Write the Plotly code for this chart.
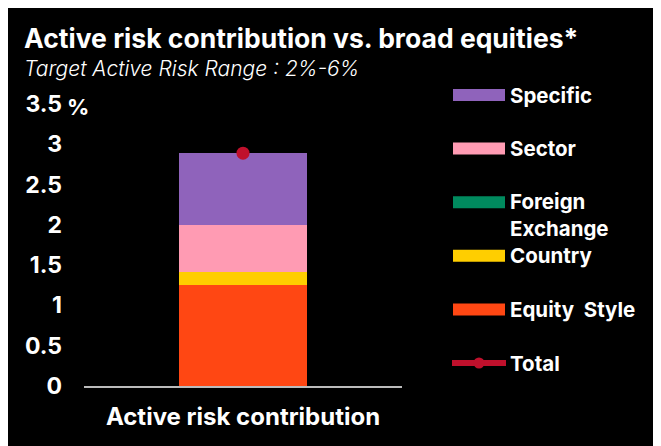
import plotly.graph_objects as go

# ---- data ----
category = ["Active risk contribution"]
series_names = ["Equity  Style", "Country", "Foreign<br>Exchange", "Sector", "Specific"]
series_values = [1.25, 0.17, 0.0, 0.58, 0.89]
series_colors = ["#FF4713", "#FFCE00", "#008A5E", "#FF9BB3", "#8F63BB"]
total_value = [2.89]
total_name = "Total"
total_color = "#C0102C"
y_tickvals = [0, 0.5, 1, 1.5, 2, 2.5, 3, 3.5]
y_ticktext = ["0", "0.5", "1", "1.5", "2", "2.5", "3", "3.5"]

# ---- layout geometry (figure pixels) ----
W, H = 653, 439
ML, MR, MT, MB = 76, 259, 96, 61
PW, PH = W - ML - MR, H - MT - MB
FONT = "Inter"

def px(fx):
    return (fx - ML) / PW

def py(fy):
    return (H - MB - fy) / PH

fig = go.Figure()
for name, val, col in zip(series_names, series_values, series_colors):
    fig.add_trace(go.Bar(x=category, y=[val], name=name, marker_color=col,
                         marker_line_width=0, showlegend=False, width=0.4))
fig.add_trace(go.Scatter(x=category, y=total_value, name=total_name, mode="markers+lines",
                         marker=dict(color=total_color, size=13), line=dict(color=total_color, width=6),
                         showlegend=False))

annotations = []
shapes = []
# subtitle
annotations.append(dict(xref="paper", yref="paper", x=px(14), y=py(60), xanchor="left", yanchor="middle",
                        text="<i>Target Active Risk Range : 2%-6%</i>", showarrow=False,
                        font=dict(family=FONT, size=21, color="white", weight=300)))
# % unit
annotations.append(dict(xref="paper", yref="paper", x=px(57), y=py(99), xanchor="left", yanchor="middle",
                        text="<b>%</b>", showarrow=False,
                        font=dict(family=FONT, size=22, color="white")))

# manual legend (top to bottom: reversed stacking order, then total)
leg_items = list(zip(series_names, series_colors))[::-1]
y0, step = 87, 53.6
sx0, sx1, tx = 445, 497, 500
for i, (name, col) in enumerate(leg_items):
    yc = y0 + i * step
    shapes.append(dict(type="rect", xref="paper", yref="paper", x0=px(sx0), x1=px(sx1),
                       y0=py(yc - 6), y1=py(yc + 6), fillcolor=col, line_width=0, layer="above"))
    if "<br>" in name:
        annotations.append(dict(xref="paper", yref="paper", x=px(tx), y=py(yc - 15), xanchor="left",
                                yanchor="top", text="<b>" + name + "</b>", showarrow=False, align="left",
                                font=dict(family=FONT, size=20.5, color="white")))
    else:
        annotations.append(dict(xref="paper", yref="paper", x=px(tx), y=py(yc), xanchor="left",
                                yanchor="middle", text="<b>" + name + "</b>", showarrow=False, align="left",
                                font=dict(family=FONT, size=20.5, color="white")))
yc = y0 + len(leg_items) * step
shapes.append(dict(type="line", xref="paper", yref="paper", x0=px(444), x1=px(498),
                   y0=py(yc), y1=py(yc), line=dict(color=total_color, width=6)))
shapes.append(dict(type="circle", xref="paper", yref="paper", x0=px(465.5), x1=px(476.5),
                   y0=py(yc - 5.5), y1=py(yc + 5.5), fillcolor=total_color, line_width=0))
annotations.append(dict(xref="paper", yref="paper", x=px(tx), y=py(yc), xanchor="left", yanchor="middle",
                        text="<b>" + total_name + "</b>", showarrow=False,
                        font=dict(family=FONT, size=20.5, color="white")))

fig.update_layout(
    width=W, height=H, barmode="stack",
    paper_bgcolor="black", plot_bgcolor="black",
    margin=dict(l=ML, r=MR, t=MT, b=MB),
    title=dict(text="<b>Active risk contribution vs. broad equities*</b>", xref="container", yref="container",
               x=16 / W, y=1 - 31 / H, xanchor="left", yanchor="middle",
               font=dict(family=FONT, size=26.5, color="white")),
    annotations=annotations, shapes=shapes,
    xaxis=dict(showgrid=False, showline=True, linecolor="#BBBBBB", linewidth=2, ticks="",
               tickfont=dict(family=FONT, size=24, color="white", weight="bold"), ticklabelstandoff=8),
    yaxis=dict(range=[0, 3.5], tickvals=y_tickvals, ticktext=y_ticktext, showgrid=False, zeroline=False,
               showline=False, tickfont=dict(family=FONT, size=23, color="white", weight="bold"),
               ticklabelstandoff=21),
)
fig.write_html("out.html")
